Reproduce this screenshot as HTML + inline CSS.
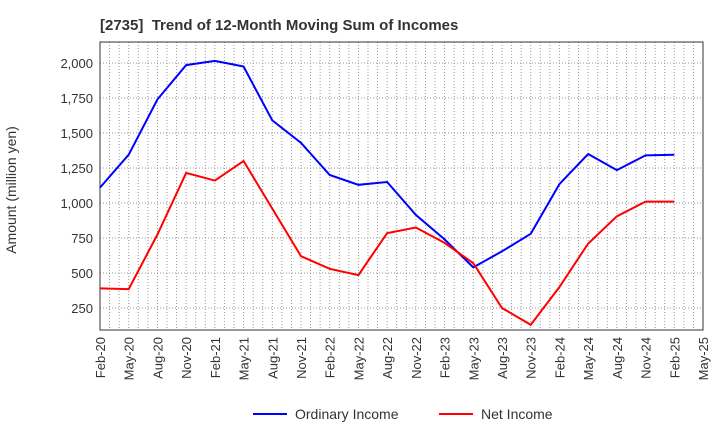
<!DOCTYPE html>
<html><head><meta charset="utf-8"><style>
body{margin:0;background:#fff;font-family:"Liberation Sans",sans-serif}
</style></head><body>
<svg id="c" width="720" height="440" xmlns="http://www.w3.org/2000/svg">
<text x="100" y="30" font-size="15" font-weight="bold" fill="#333" xml:space="preserve">[2735]  Trend of 12-Month Moving Sum of Incomes</text>
<text transform="translate(16,190) rotate(-90)" text-anchor="middle" font-size="14" fill="#333">Amount (million yen)</text>
<g id="grid"></g><g id="axes"></g><g id="series"></g>
<g>
<line x1="253" y1="414" x2="287" y2="414" stroke="#0000ff" stroke-width="2"/>
<text x="295" y="419" font-size="14" fill="#333">Ordinary Income</text>
<line x1="439" y1="414" x2="473" y2="414" stroke="#ff0000" stroke-width="2"/>
<text x="481" y="419" font-size="14" fill="#333">Net Income</text>
</g>
</svg>
<script>
const categories=["Feb-20","May-20","Aug-20","Nov-20","Feb-21","May-21","Aug-21","Nov-21","Feb-22","May-22","Aug-22","Nov-22","Feb-23","May-23","Aug-23","Nov-23","Feb-24","May-24","Aug-24","Nov-24","Feb-25","May-25"];
const ordinaryIncome=[1110,1345,1740,1985,2015,1975,1590,1430,1200,1130,1150,915,740,540,655,780,1135,1350,1235,1340,1345];
const netIncome=[390,385,775,1215,1160,1300,960,620,530,485,785,825,715,570,250,130,400,710,905,1010,1010];
const yTicks=[250,500,750,1000,1250,1500,1750,2000];
const L=100,R=703,T=42,B=330;
const step=(R-L)/(categories.length-1);
const xs=i=>L+i*step;
const ys=v=>343-v*0.14;
const ns="http://www.w3.org/2000/svg";
function mk(t,a,p){const e=document.createElementNS(ns,t);for(const k in a)e.setAttribute(k,a[k]);p.appendChild(e);return e;}
const grid=document.getElementById('grid'),axes=document.getElementById('axes'),ser=document.getElementById('series');
for(let m=1;m<(categories.length-1)*3;m++){const x=L+m*step/3;
const g=mk('line',{x1:x,x2:x,y1:T,y2:B,stroke:'#999','stroke-dasharray':'1,2','stroke-width':1},grid);

}
yTicks.forEach(v=>{const y=ys(v);
const g=mk('line',{x1:L,x2:R,y1:y,y2:y,stroke:'#999','stroke-dasharray':'1,2'},grid);


const t=mk('text',{x:L-7,y:y+5,'text-anchor':'end','font-size':13,fill:'#333'},axes);t.textContent=v.toLocaleString('en-US');

});
categories.forEach((c,i)=>{const x=xs(i);
const t=mk('text',{transform:`translate(${x+5},${B+7}) rotate(-90)`,'text-anchor':'end','font-size':13,fill:'#333'},axes);t.textContent=c;

});
const box=mk('rect',{x:L,y:T,width:R-L,height:B-T,fill:'none',stroke:'#333'},axes);


function line(d,col,name){const p=mk('polyline',{points:d.map((v,i)=>xs(i)+','+ys(v)).join(' '),fill:'none',stroke:col,'stroke-width':2},ser);

}
line(ordinaryIncome,'#0000ff','ordinary-income-line');
line(netIncome,'#ff0000','net-income-line');
</script>
</body></html>
